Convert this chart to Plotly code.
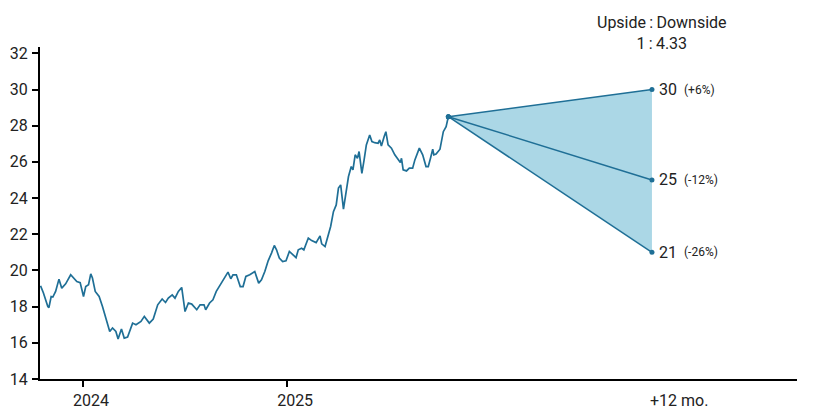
import plotly.graph_objects as go
import pandas as pd

# ---- data ----
dates = [
    "2023-10-17", "2023-10-22", "2023-10-30", "2023-11-01", "2023-11-05", "2023-11-08",
    "2023-11-13", "2023-11-19", "2023-11-24", "2023-12-01", "2023-12-10", "2023-12-16",
    "2023-12-21", "2023-12-27", "2024-01-02", "2024-01-06", "2024-01-11", "2024-01-15",
    "2024-01-18", "2024-01-23", "2024-01-30", "2024-02-05", "2024-02-11", "2024-02-18",
    "2024-02-23", "2024-02-29", "2024-03-04", "2024-03-10", "2024-03-15", "2024-03-21",
    "2024-03-30", "2024-04-05", "2024-04-14", "2024-04-20", "2024-04-29", "2024-05-06",
    "2024-05-14", "2024-05-22", "2024-05-28", "2024-06-02", "2024-06-09", "2024-06-14",
    "2024-06-20", "2024-06-26", "2024-07-02", "2024-07-08", "2024-07-14", "2024-07-23",
    "2024-07-29", "2024-08-05", "2024-08-08", "2024-08-15", "2024-08-21", "2024-08-27",
    "2024-09-05", "2024-09-11", "2024-09-17", "2024-09-22", "2024-09-26", "2024-10-02",
    "2024-10-09", "2024-10-14", "2024-10-19", "2024-10-26", "2024-11-04", "2024-11-11",
    "2024-11-16", "2024-11-22", "2024-11-28", "2024-12-04", "2024-12-09", "2024-12-13",
    "2024-12-18", "2024-12-24", "2024-12-30", "2025-01-05", "2025-01-11", "2025-01-17",
    "2025-01-21", "2025-01-27", "2025-01-31", "2025-02-08", "2025-02-14", "2025-02-22",
    "2025-03-01", "2025-03-04", "2025-03-10", "2025-03-16", "2025-03-20", "2025-03-25",
    "2025-03-30", "2025-04-03", "2025-04-07", "2025-04-12", "2025-04-17", "2025-04-21",
    "2025-04-26", "2025-04-29", "2025-05-03", "2025-05-07", "2025-05-10", "2025-05-15",
    "2025-05-19", "2025-05-23", "2025-05-29", "2025-06-02", "2025-06-07", "2025-06-13",
    "2025-06-16", "2025-06-19", "2025-06-24", "2025-06-27", "2025-07-01", "2025-07-07",
    "2025-07-13", "2025-07-19", "2025-07-23", "2025-07-25", "2025-07-28", "2025-08-03",
    "2025-08-08", "2025-08-14", "2025-08-18", "2025-08-26", "2025-09-01", "2025-09-07",
    "2025-09-11", "2025-09-15", "2025-09-19", "2025-09-21", "2025-09-25", "2025-10-02",
    "2025-10-08", "2025-10-13", "2025-10-17",
]
prices = [
    19.15, 18.77, 18.01, 17.95, 18.56, 18.53,
    18.84, 19.52, 19.02, 19.26, 19.76, 19.58,
    19.39, 19.33, 18.56, 19.11, 19.21, 19.81,
    19.58, 18.84, 18.56, 18.01, 17.37, 16.63,
    16.82, 16.63, 16.21, 16.76, 16.26, 16.32,
    17.09, 17.00, 17.18, 17.46, 17.09, 17.31,
    18.10, 18.42, 18.23, 18.47, 18.65, 18.47,
    18.84, 19.06, 17.73, 18.20, 18.14, 17.83,
    18.10, 18.10, 17.83, 18.20, 18.38, 18.84,
    19.30, 19.58, 19.91, 19.54, 19.76, 19.76,
    19.11, 19.11, 19.67, 19.76, 19.94, 19.30,
    19.48, 19.94, 20.53, 20.96, 21.38, 21.14,
    20.68, 20.49, 20.53, 21.05, 20.86, 20.71,
    21.14, 21.23, 21.14, 21.79, 21.65, 21.54,
    21.91, 21.47, 21.32, 21.97, 22.43, 23.25,
    23.62, 24.55, 24.73, 23.39, 24.27, 25.19,
    25.74, 25.56, 26.39, 26.20, 26.57, 25.37,
    26.11, 26.94, 27.49, 27.12, 27.06, 27.03,
    27.21, 26.88, 27.40, 27.67, 26.94, 26.76,
    26.39, 26.11, 25.96, 26.20, 25.56, 25.50,
    25.65, 25.65, 26.11, 26.76, 26.39, 25.74,
    25.74, 26.20, 26.70, 26.39, 26.44, 26.70,
    27.67, 27.95, 28.50,
]

target_date = "2026-10-17"
target_names = ["upside", "base", "downside"]
target_values = [30, 25, 21]
target_pct_labels = ["(+6%)", "(-12%)", "(-26%)"]
ratio_title = "Upside\u2009:\u2009Downside"
ratio_value = "1\u2009:\u20094.33"

x_tick_vals = ["2024-01-01", "2025-01-01"]
x_tick_text = ["2024", "2025"]
future_label = "+12 mo."
future_label_date = "2026-12-04"
y_tick_vals = [14, 16, 18, 20, 22, 24, 26, 28, 30, 32]

LINE = "#1f6f96"
FILL = "#abd7e6"
FONT = "Roboto"
TXT = "#222222"

last_date = dates[-1]
last_price = prices[-1]

fig = go.Figure()

# shaded cone between upside and downside
fig.add_trace(go.Scatter(
    x=[last_date, target_date, target_date, last_date],
    y=[last_price, target_values[0], target_values[-1], last_price],
    fill="toself", fillcolor=FILL, mode="none", hoverinfo="skip", showlegend=False,
))

# price history
fig.add_trace(go.Scatter(
    x=pd.to_datetime(dates), y=prices, mode="lines",
    line=dict(color=LINE, width=1.7), showlegend=False,
))

# forecast lines
for v in target_values:
    fig.add_trace(go.Scatter(
        x=[last_date, target_date], y=[last_price, v], mode="lines+markers",
        line=dict(color=LINE, width=1.5), marker=dict(color=LINE, size=5),
        showlegend=False,
    ))

annotations = []
for v, lab in zip(target_values, target_pct_labels):
    annotations.append(dict(
        x=target_date, y=v, xref="x", yref="y", xanchor="left", yanchor="middle",
        xshift=5, showarrow=False, text=f"{v}",
        font=dict(family=FONT, size=16, color=TXT),
    ))
    annotations.append(dict(
        x=target_date, y=v, xref="x", yref="y", xanchor="left", yanchor="middle",
        xshift=30, showarrow=False, text=lab,
        font=dict(family=FONT, size=12, color=TXT),
    ))

annotations.append(dict(
    x=target_date, y=1, xref="x", yref="paper", xanchor="center", yanchor="middle",
    xshift=10, yshift=14, showarrow=False, text=f"{ratio_title}<br>{ratio_value}",
    font=dict(family=FONT, size=16, color=TXT),
))

annotations.append(dict(
    x=future_label_date, y=0, xref="x", yref="paper", xanchor="center", yanchor="top",
    yshift=-10, showarrow=False, text=future_label,
    font=dict(family=FONT, size=16, color=TXT),
))

fig.update_layout(
    width=825, height=419,
    margin=dict(l=40, r=28, t=47, b=40, autoexpand=False),
    plot_bgcolor="white", paper_bgcolor="white",
    font=dict(family=FONT, size=16, color=TXT),
    annotations=annotations,
    xaxis=dict(
        type="date", range=["2023-10-16", "2027-07-04"],
        tickvals=x_tick_vals, ticktext=x_tick_text,
        showgrid=False, zeroline=False, automargin=False,
        showline=True, linecolor="black", linewidth=2,
        ticks="outside", ticklen=6, tickwidth=2, tickcolor="black",
        ticklabelshift=8, ticklabelstandoff=0,
    ),
    yaxis=dict(
        range=[14, 32.35], tickvals=y_tick_vals,
        showgrid=False, zeroline=False, automargin=False,
        showline=True, linecolor="black", linewidth=2,
        ticks="outside", ticklen=6, tickwidth=2, tickcolor="black",
        ticklabelstandoff=1,
    ),
)

fig.write_html("out.html", config={"displayModeBar": False},
               post_script="document.body.style.margin='0';")
